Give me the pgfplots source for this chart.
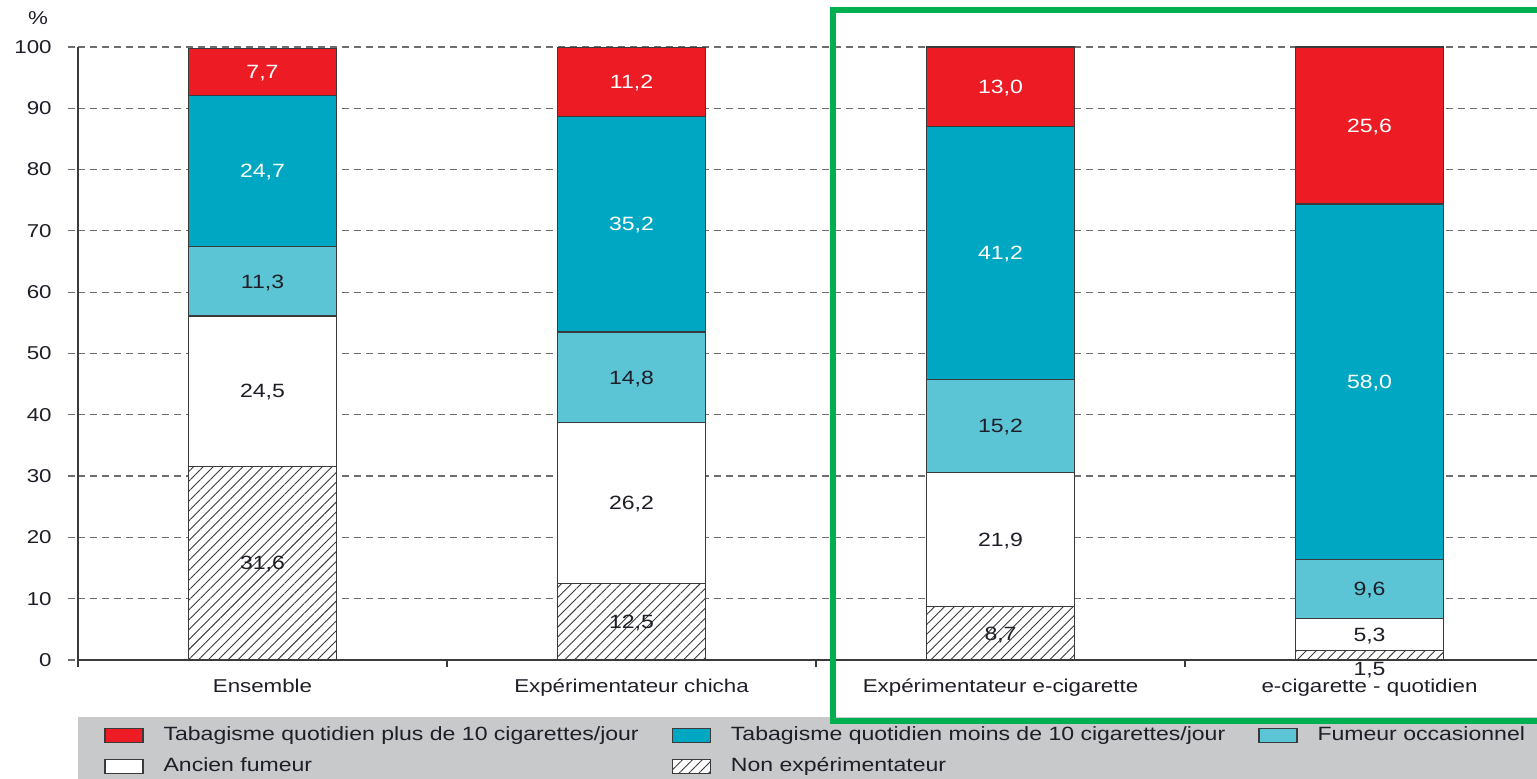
\documentclass[border=0pt]{standalone}
\usepackage{fontspec}
\setmainfont{Liberation Sans}[FakeStretch=1.2]
\usepackage{pgfplots}
\pgfplotsset{compat=1.18}
\usetikzlibrary{patterns.meta}
\definecolor{cred}{HTML}{ED1C24}
\definecolor{cteal}{HTML}{00A7C2}
\definecolor{clight}{HTML}{5BC5D6}
\definecolor{legbg}{HTML}{C8C9CB}
\definecolor{cgreen}{HTML}{00B050}
\definecolor{txt}{HTML}{1E1E28}
\definecolor{edge}{HTML}{3A3A3A}
\definecolor{gridc}{HTML}{6E6E6E}
\pgfplotsset{lgbox/.style={legend image code/.code={\draw[##1] (0pt,-3.5pt) rectangle (19pt,3.5pt);}}}
\begin{document}
\begin{tikzpicture}
\fill[legbg] (0pt,-28.5pt) rectangle (800pt,-70pt);
\begin{axis}[
  at={(0pt,0pt)}, anchor=south west,
  scale only axis, width=729.5pt, height=306.5pt,
  xmin=-0.5, xmax=3.4539, ymin=0, ymax=100,
  ybar stacked, bar width=74pt,
  axis x line=bottom, axis y line=left,
  axis line style={-, draw=edge, line width=0.7pt},
  xtick={0,1,2,3},
  xticklabels={Ensemble, Expérimentateur chicha, Expérimentateur e-cigarette, e-cigarette - quotidien},
  minor xtick={-0.5,0.5,1.5,2.5},
  ytick={0,10,...,100},
  ymajorgrids,
  major grid style={draw=gridc, dash pattern=on 3.5pt off 2.5pt, line width=0.6pt},
  tick align=outside, major tick length=5pt, minor tick length=3.5pt,
  major x tick style={draw=none},
  minor x tick style={draw=edge, line width=0.7pt},
  major y tick style={draw=gridc, dash pattern=on 3.5pt off 2.5pt, line width=0.6pt},
  /pgf/number format/assume math mode=true,
  yticklabel style={font=\fontsize{9.3}{11}\selectfont, text=txt, anchor=east, inner xsep=0pt, xshift=-8pt},
  xticklabel style={font=\fontsize{9.3}{11}\selectfont, text=txt, anchor=base, inner sep=0pt, yshift=-11.5pt},
  legend columns=3, reverse legend, legend cell align=left,
  legend style={at={(0.0178,-0.107)}, anchor=north west, draw=none, fill=none, inner sep=0pt,
    font=\fontsize{9.6}{11}\selectfont, text=txt, row sep=6pt,
    nodes={inner sep=0pt, text height=7.5pt, text depth=2pt},
    /tikz/every odd column/.style={column sep=10pt},
    /tikz/every even column/.style={column sep=16.5pt}},
]
\addplot[fill=white, draw=edge, line width=0.6pt, postaction={pattern={Lines[angle=45,distance=3.5pt,line width=0.45pt]}, pattern color=edge}, lgbox]
  coordinates {(0,31.6) (1,12.5) (2,8.7) (3,1.5)};
\addlegendentry{Non expérimentateur}
\addplot[fill=white, draw=edge, line width=0.6pt, lgbox]
  coordinates {(0,24.5) (1,26.2) (2,21.9) (3,5.3)};
\addlegendentry{Ancien fumeur}
\addplot[fill=clight, draw=edge, line width=0.6pt, lgbox]
  coordinates {(0,11.3) (1,14.8) (2,15.2) (3,9.6)};
\addlegendentry{Fumeur occasionnel}
\addplot[fill=cteal, draw=edge, line width=0.6pt, lgbox]
  coordinates {(0,24.7) (1,35.2) (2,41.2) (3,58.0)};
\addlegendentry{Tabagisme quotidien moins de 10 cigarettes/jour}
\addplot[fill=cred, draw=edge, line width=0.6pt, lgbox]
  coordinates {(0,7.7) (1,11.2) (2,13.0) (3,25.6)};
\addlegendentry{Tabagisme quotidien plus de 10 cigarettes/jour}
\end{axis}
\begin{axis}[
  at={(0pt,0pt)}, anchor=south west,
  scale only axis, width=729.5pt, height=306.5pt,
  xmin=-0.5, xmax=3.4539, ymin=0, ymax=100,
  hide axis, clip=false]
\addplot[draw=none, mark=none, nodes near coords, point meta=explicit symbolic,
  every node near coord/.style={anchor=base, yshift=-3.4pt, text=white, font=\fontsize{9.6}{11}\selectfont}]
  table[meta=label, row sep=\\] {x y label\\
  0 95.95 7,7\\ 0 79.75 24,7\\ 1 94.3 11,2\\ 1 71.1 35,2\\
  2 93.5 13,0\\ 2 66.4 41,2\\ 3 87.2 25,6\\ 3 45.4 58,0\\};
\addplot[draw=none, mark=none, nodes near coords, point meta=explicit symbolic,
  every node near coord/.style={anchor=base, yshift=-3.4pt, text=txt, font=\fontsize{9.6}{11}\selectfont}]
  table[meta=label, row sep=\\] {x y label\\
  0 61.75 11,3\\ 0 43.85 24,5\\ 0 15.8 31,6\\
  1 46.1 14,8\\ 1 25.6 26,2\\ 1 6.25 12,5\\
  2 38.2 15,2\\ 2 19.65 21,9\\ 2 4.35 8,7\\
  3 11.6 9,6\\ 3 4.15 5,3\\ 3 -1.5 1,5\\};
\end{axis}
\node[font=\fontsize{9.3}{11}\selectfont, text=txt] at (-20pt,321pt) {\%};
\draw[cgreen, line width=2.8pt] (377.5pt,-30.5pt) rectangle (800pt,324.85pt);
\pgfresetboundingbox
\useasboundingbox (-39pt,-59.5pt) rectangle (729.5pt,330pt);
\end{tikzpicture}
\end{document}
